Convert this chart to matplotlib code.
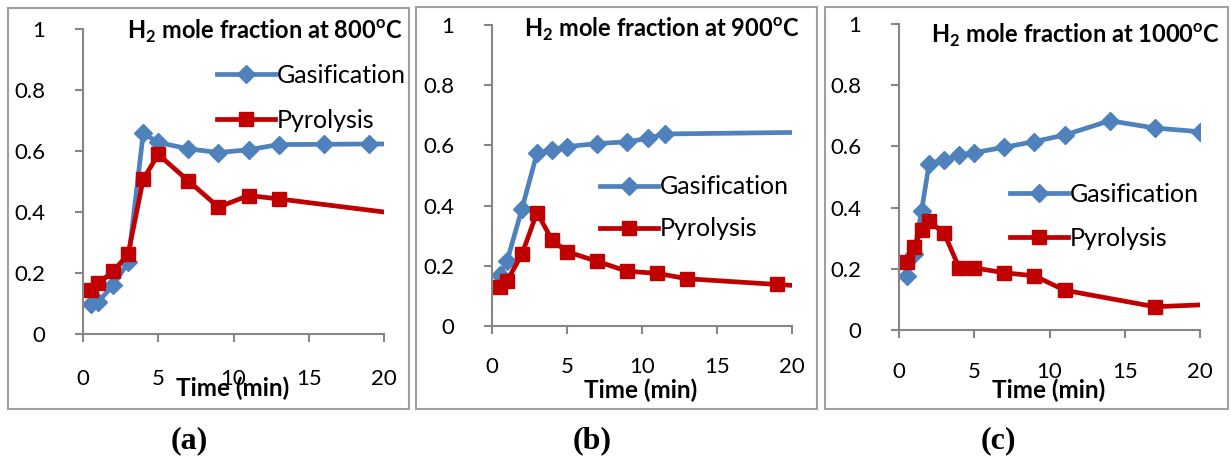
import matplotlib
matplotlib.use("Agg")
import matplotlib.pyplot as plt
from matplotlib.patches import Rectangle

plt.rcParams['font.family'] = ['Lato', 'DejaVu Sans']
plt.rcParams['mathtext.fontset'] = 'custom'
plt.rcParams['mathtext.rm'] = 'Lato'
plt.rcParams['mathtext.bf'] = 'Lato:bold'

# panel (a) 800C
a_gas_t = [0.5, 1, 2, 3, 4, 5, 7, 9, 11, 13, 16, 19, 20]
a_gas = [0.10, 0.105, 0.16, 0.235, 0.658, 0.628, 0.607, 0.595, 0.604, 0.621, 0.622, 0.623, 0.623]
a_pyr_t = [0.5, 1, 2, 3, 4, 5, 7, 9, 11, 13, 20]
a_pyr = [0.144, 0.166, 0.205, 0.262, 0.507, 0.589, 0.502, 0.416, 0.454, 0.443, 0.40]

# panel (b) 900C
b_gas_t = [0.5, 1, 2, 3, 4, 5, 7, 9, 10.4, 11.5, 20]
b_gas = [0.17, 0.215, 0.39, 0.574, 0.586, 0.596, 0.606, 0.612, 0.623, 0.638, 0.643]
b_pyr_t = [0.5, 1, 2, 3, 4, 5, 7, 9, 11, 13, 19, 20]
b_pyr = [0.128, 0.15, 0.239, 0.377, 0.286, 0.247, 0.215, 0.182, 0.175, 0.157, 0.138, 0.135]

# panel (c) 1000C
c_gas_t = [0.5, 1, 1.5, 2, 3, 4, 5, 7, 9, 11, 14, 17, 20]
c_gas = [0.175, 0.25, 0.39, 0.543, 0.556, 0.571, 0.58, 0.597, 0.616, 0.637, 0.684, 0.66, 0.648]
c_pyr_t = [0.5, 1, 1.5, 2, 3, 4, 5, 7, 9, 11, 17, 20]
c_pyr = [0.223, 0.272, 0.327, 0.356, 0.316, 0.203, 0.203, 0.187, 0.177, 0.13, 0.076, 0.082]

temps = ['800', '900', '1000']
captions = ['(a)', '(b)', '(c)']

W, H = 1231, 462
fig = plt.figure(figsize=(W / 100, H / 100), dpi=100)

def fx(px):
    return px / W

def fy(py):
    return 1 - py / H

# pixel layout: axes (left, right, top, bottom), panel box, legend anchor + row gap, title right edge / y, xlabel centre
panels = [
    dict(ax=(83, 384, 29, 334), box=(8, 8, 409, 409), leg=(217, 98, 0.88), title=(403, 31), xl=(233, 388), cap=189,
         xpad=19, gas=(a_gas_t, a_gas, slice(0, -1)), pyr=(a_pyr_t, a_pyr, slice(0, -1))),
    dict(ax=(492, 792, 25, 326), box=(416, 7, 817, 409), leg=(600, 208, 0.76), title=(800, 29), xl=(641, 390), cap=592,
         xpad=16, gas=(b_gas_t, b_gas, slice(0, -1)), pyr=(b_pyr_t, b_pyr, slice(0, -1))),
    dict(ax=(899, 1200, 24, 330), box=(825, 7, 1228, 409), leg=(1010, 216, 0.84), title=(1220, 35), xl=(1049, 390), cap=998,
         xpad=17, gas=(c_gas_t, c_gas, None), pyr=(c_pyr_t, c_pyr, slice(0, -1))),
]

grey = '#868686'
blue = '#4F81BD'
red = '#C00000'

for i, p in enumerate(panels):
    x0, x1, y0, y1 = p['ax']
    ax = fig.add_axes([fx(x0), fy(y1), (x1 - x0) / W, (y1 - y0) / H])

    bx0, by0, bx1, by1 = p['box']
    fig.patches.append(Rectangle((fx(bx0), fy(by1)), (bx1 - bx0) / W, (by1 - by0) / H,
                                 transform=fig.transFigure, fill=False, edgecolor='#a0a0a0', lw=1.5))

    t, v, me = p['gas']
    ax.plot(t, v, color=blue, lw=3.4, marker='D', ms=9.5, mew=1, mec=blue, markevery=me, label='Gasification')
    t, v, me = p['pyr']
    ax.plot(t, v, color=red, lw=3.4, marker='s', ms=10.5, mew=1, mec=red, markevery=me, label='Pyrolysis')

    ax.set_xlim(0, 20)
    ax.set_ylim(0, 1)
    ax.set_xticks([0, 5, 10, 15, 20])
    ax.set_yticks([0, 0.2, 0.4, 0.6, 0.8, 1])
    ax.set_yticklabels(['0', '0.2', '0.4', '0.6', '0.8', '1'])
    for s in ['top', 'right']:
        ax.spines[s].set_visible(False)
    for s in ['left', 'bottom']:
        ax.spines[s].set_color(grey)
        ax.spines[s].set_linewidth(1.5)
    ax.tick_params(axis='both', colors=grey, labelcolor='black', labelsize=16, length=6, width=1.5)
    ax.tick_params(axis='x', pad=p['xpad'])
    ax.tick_params(axis='y', pad=21)

    ax.legend(loc='center left', bbox_to_anchor=(fx(p['leg'][0]), fy(p['leg'][1])),
              bbox_transform=fig.transFigure, frameon=False, fontsize=18,
              handlelength=2.3, handletextpad=0.08, borderpad=0, borderaxespad=0,
              labelspacing=p['leg'][2], numpoints=1)

    fig.text(fx(p['title'][0]), fy(p['title'][1]),
             r'H$_\mathbf{2}$ mole fraction at ' + temps[i] + r'$^\mathbf{o}$C',
             ha='right', va='center', fontsize=17, fontweight='bold')
    fig.text(fx(p['xl'][0]), fy(p['xl'][1]), 'Time (min)', ha='center', va='center',
             fontsize=17.5, fontweight='bold')
    fig.text(fx(p['cap']), fy(441), captions[i], ha='center', va='center', fontsize=23,
             fontweight='bold', family='Liberation Serif')

fig.savefig('out.png', dpi=100)
